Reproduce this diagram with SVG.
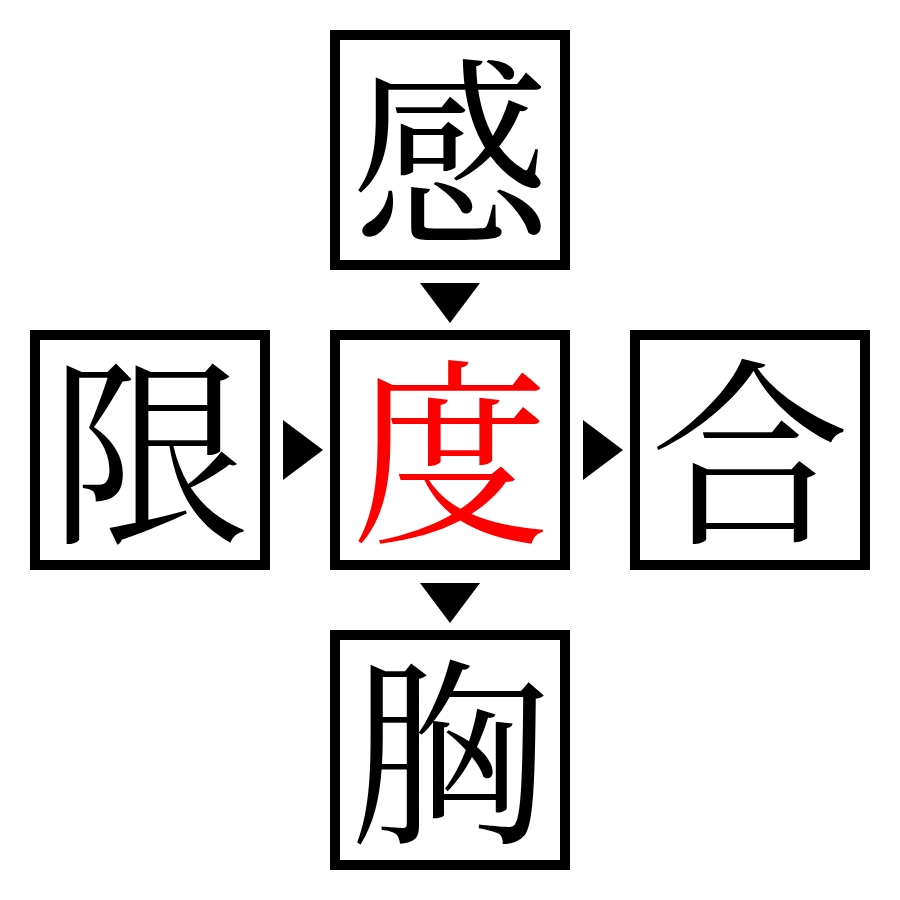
<svg xmlns="http://www.w3.org/2000/svg" width="900" height="900" viewBox="0 0 900 900">
<style>
.box{fill:#fff;stroke:#000;stroke-width:10}
.ch{font-family:"Noto Serif CJK JP","Noto Sans CJK JP",serif;font-size:200px;text-anchor:middle;dominant-baseline:central;fill:#000}
.red{fill:#ff0000}
.arr{fill:#000}
</style>
<rect width="900" height="900" fill="#fff"/>
<g id="connectors">
<polygon class="arr" points="420,283 480,283 450,323"/>
<polygon class="arr" points="420,583 480,583 450,623"/>
<polygon class="arr" points="283,420 283,480 323,450"/>
<polygon class="arr" points="583,420 583,480 623,450"/>
</g>
<g id="node-top"><rect class="box" x="335" y="35" width="230" height="230"/><text class="ch" x="450" y="141">感</text></g>
<g id="node-left"><rect class="box" x="35" y="335" width="230" height="230"/><text class="ch" x="150" y="441">限</text></g>
<g id="node-center"><rect class="box" x="335" y="335" width="230" height="230"/><text class="ch red" x="450" y="441">度</text></g>
<g id="node-right"><rect class="box" x="635" y="335" width="230" height="230"/><text class="ch" x="750" y="441">合</text></g>
<g id="node-bottom"><rect class="box" x="335" y="635" width="230" height="230"/><text class="ch" x="450" y="741">胸</text></g>
</svg>
